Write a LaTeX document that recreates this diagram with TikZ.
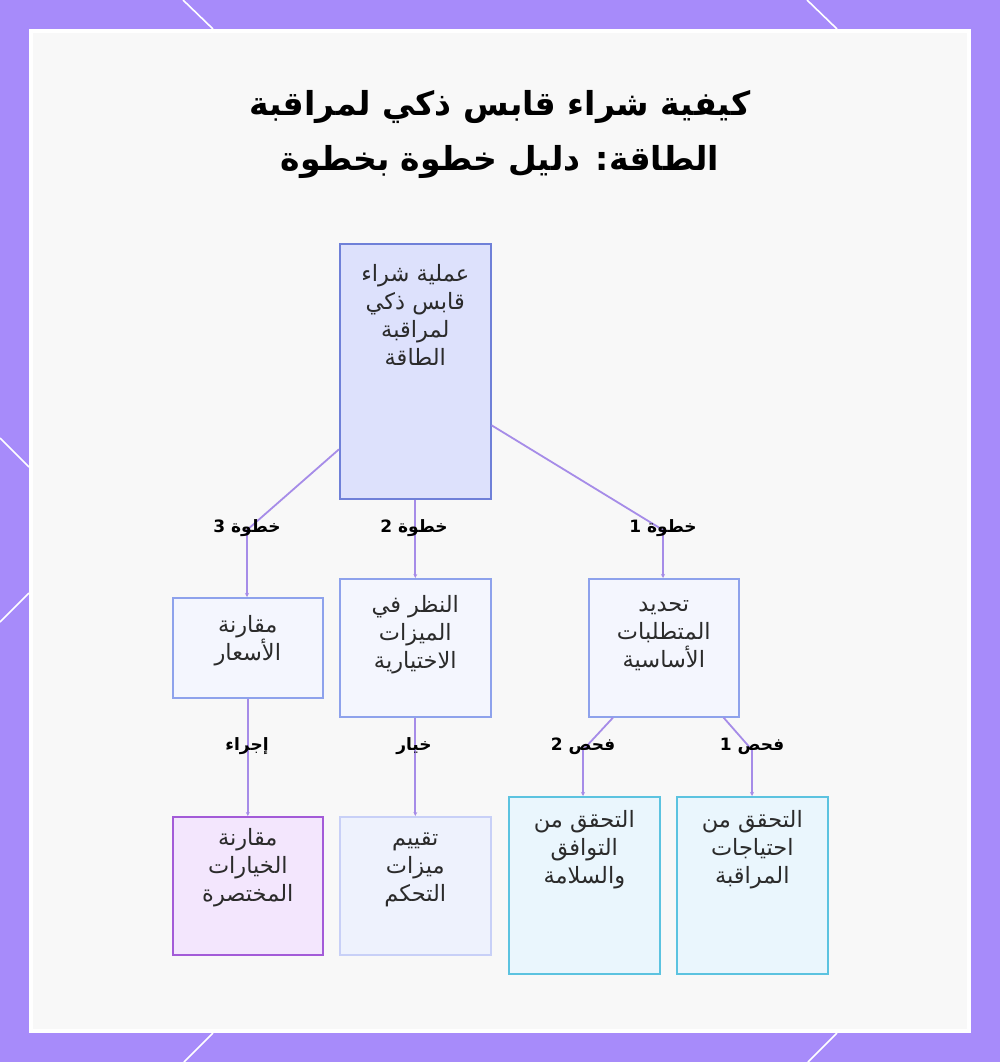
\documentclass[tikz,border=0pt]{standalone}
\usepackage{fontspec}
\usetikzlibrary{arrows.meta}
\TeXXeTstate=1
\newfontfamily\arabicfont[Script=Arabic]{DejaVu Sans}
\definecolor{frame}{HTML}{A78BFA}
\definecolor{panel}{HTML}{F8F8F8}
\definecolor{edge}{HTML}{A68CE8}
\definecolor{rootfill}{HTML}{DDE1FC}
\definecolor{rootdraw}{HTML}{6F80D8}
\definecolor{stepfill}{HTML}{F4F6FE}
\definecolor{stepdraw}{HTML}{8EA2EC}
\definecolor{purpfill}{HTML}{F3E6FD}
\definecolor{purpdraw}{HTML}{A35BD8}
\definecolor{lightfill}{HTML}{EEF2FD}
\definecolor{lightdraw}{HTML}{C8D0F7}
\definecolor{cyanfill}{HTML}{EAF6FD}
\definecolor{cyandraw}{HTML}{5CC3E0}
\definecolor{txt}{HTML}{2B2B2B}
\tikzset{
  boxbase/.style={rectangle, anchor=north west, inner sep=0pt, line width=1.6pt},
  rootbox/.style={boxbase, fill=rootfill, draw=rootdraw},
  stepbox/.style={boxbase, fill=stepfill, draw=stepdraw},
  purpbox/.style={boxbase, fill=purpfill, draw=purpdraw},
  lightbox/.style={boxbase, fill=lightfill, draw=lightdraw},
  cyanbox/.style={boxbase, fill=cyanfill, draw=cyandraw},
  boxtext/.style={anchor=north, align=center, inner sep=0pt, text=txt,
    font=\arabicfont\fontsize{22.5}{28}\selectfont},
  edgelabel/.style={inner sep=1pt, text=black, font=\arabicfont\bfseries\fontsize{17}{18}\selectfont},
  conn/.style={draw=edge, line width=1.8pt},
  connarrow/.style={conn, -{Stealth[length=4pt,width=4pt]}},
  slash/.style={draw=white, line width=1.6pt}
}
\begin{document}
\begin{tikzpicture}[x=1pt,y=-1pt]
\useasboundingbox (0,0) rectangle (1000,1062);
% frame
\fill[frame] (0,0) rectangle (1000,1062);
\draw[slash] (183,0) -- (213,29);
\draw[slash] (807,0) -- (837,29);
\draw[slash] (213,1033) -- (184,1062);
\draw[slash] (837,1033) -- (808,1062);
\draw[slash] (0,438) -- (29,467);
\draw[slash] (29,593) -- (0,622);
\fill[white] (29,29) rectangle (971,1033);
\fill[panel] (33,33) rectangle (967,1029);
% title
\node[anchor=center, align=center, text=black, font=\arabicfont\bfseries\fontsize{33}{55}\selectfont] (title) at (500,134)
  {\beginR كيفية شراء قابس ذكي لمراقبة\endR\\\beginR الطاقة: دليل خطوة بخطوة\endR};
% boxes
\node[rootbox, minimum width=151pt, minimum height=255pt] (root) at (339,243) {};
\node[boxtext] (roott) at ([yshift=-21pt]root.north)
  {\beginR عملية شراء\endR\\\beginR قابس ذكي\endR\\\beginR لمراقبة\endR\\\beginR الطاقة\endR};
\node[stepbox, minimum width=150pt, minimum height=100pt] (s3) at (172,597) {};
\node[boxtext] (s3t) at ([yshift=-18pt]s3.north)
  {\beginR مقارنة\endR\\\beginR الأسعار\endR};
\node[stepbox, minimum width=151pt, minimum height=138pt] (s2) at (339,578) {};
\node[boxtext] (s2t) at ([yshift=-17pt]s2.north)
  {\beginR النظر في\endR\\\beginR الميزات\endR\\\beginR الاختيارية\endR};
\node[stepbox, minimum width=150pt, minimum height=138pt] (s1) at (588,578) {};
\node[boxtext] (s1t) at ([yshift=-22pt]s1.north)
  {\beginR تحديد\endR\\\beginR المتطلبات\endR\\\beginR الأساسية\endR};
\node[purpbox, minimum width=150pt, minimum height=138pt] (cmp) at (172,816) {};
\node[boxtext] (cmpt) at ([yshift=-12pt]cmp.north)
  {\beginR مقارنة\endR\\\beginR الخيارات\endR\\\beginR المختصرة\endR};
\node[lightbox, minimum width=151pt, minimum height=138pt] (eval) at (339,816) {};
\node[boxtext] (evalt) at ([yshift=-17pt]eval.north)
  {\beginR تقييم\endR\\\beginR ميزات\endR\\\beginR التحكم\endR};
\node[cyanbox, minimum width=151pt, minimum height=177pt] (c2) at (508,796) {};
\node[boxtext] (c2t) at ([yshift=-14pt]c2.north)
  {\beginR التحقق من\endR\\\beginR التوافق\endR\\\beginR والسلامة\endR};
\node[cyanbox, minimum width=151pt, minimum height=177pt] (c1) at (676,796) {};
\node[boxtext] (c1t) at ([yshift=-14pt]c1.north)
  {\beginR التحقق من\endR\\\beginR احتياجات\endR\\\beginR المراقبة\endR};
% bend coordinates
\coordinate (b3) at (247,530);
\coordinate (b1) at (663,530);
\coordinate (bc2) at (583,750);
\coordinate (bc1) at (752,750);
% connectors
\draw[connarrow] ([yshift=-78pt]root.west) -- (b3) -- (s3.north -| b3);
\draw[connarrow] (root.south) -- (s2.north);
\draw[connarrow] ([yshift=-54pt]root.east) -- (b1) -- (s1.north -| b1);
\draw[connarrow] (s3.south) -- (cmp.north);
\draw[connarrow] (s2.south) -- (eval.north);
\draw[connarrow] ([xshift=25pt]s1.south west) -- (bc2) -- (c2.north -| bc2);
\draw[connarrow] ([xshift=-16pt]s1.south east) -- (bc1) -- (c1.north -| bc1);
% labels
\node[edgelabel] (l3) at (247,528) {\beginR خطوة 3\endR};
\node[edgelabel] (l2) at (414,528) {\beginR خطوة 2\endR};
\node[edgelabel] (l1) at (663,528) {\beginR خطوة 1\endR};
\node[edgelabel] (la) at (247,746) {\beginR إجراء\endR};
\node[edgelabel] (lb) at (414,746) {\beginR خيار\endR};
\node[edgelabel] (lc2) at (583,746) {\beginR فحص 2\endR};
\node[edgelabel] (lc1) at (752,746) {\beginR فحص 1\endR};
\end{tikzpicture}
\end{document}
